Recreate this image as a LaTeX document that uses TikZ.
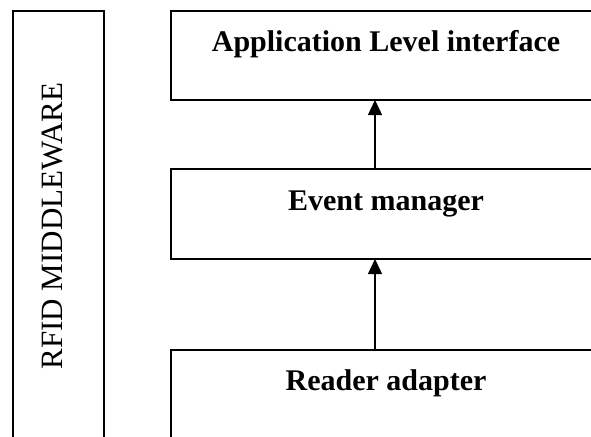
\documentclass[tikz,border=0pt]{standalone}
\usepackage{fontspec}
\setmainfont{Liberation Serif}
\usetikzlibrary{arrows.meta}
\begin{document}
\begin{tikzpicture}[x=1pt,y=-1pt,
  layer/.style={draw, line width=1.4pt, rectangle, inner sep=0pt, outer sep=0pt},
  title/.style={font=\fontsize{30}{36}\selectfont\bfseries, anchor=base},
  flow/.style={line width=1.4pt, -{Triangle[length=15pt,width=14pt]}}]
  \useasboundingbox (0,0) rectangle (591,436);
  \clip (0,0) rectangle (591,436);
  % side bar spanning the whole stack
  \node[layer, minimum width=91pt, minimum height=520pt, anchor=north west] (side) at (13,11) {};
  \node[rotate=90, font=\fontsize{31}{37}\selectfont] (sidetext) at (52.5,226) {RFID MIDDLEWARE};
  % the three layers
  \node[layer, minimum width=460pt, minimum height=89pt, anchor=north west] (app) at (171,11) {};
  \node[layer, minimum width=460pt, minimum height=90pt, anchor=north west] (evt) at (171,169) {};
  \node[layer, minimum width=460pt, minimum height=140pt, anchor=north west] (rdr) at (171,350) {};
  \node[title] (apptext) at (386,52) {Application Level interface};
  \node[title] (evttext) at (386,210) {Event manager};
  \node[title] (rdrtext) at (386,390) {Reader adapter};
  % data flows upward through the layers
  \coordinate (ax) at (375,0);
  \draw[flow] (rdr.north -| ax) -- (evt.south -| ax);
  \draw[flow] (evt.north -| ax) -- (app.south -| ax);
\end{tikzpicture}
\end{document}
